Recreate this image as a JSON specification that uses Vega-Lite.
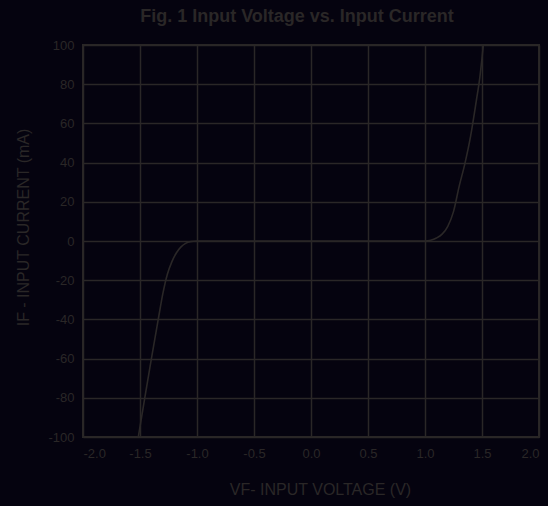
{
  "$schema": "https://vega.github.io/schema/vega-lite/v6.json",
  "autosize": "none",
  "width": 456,
  "height": 392,
  "padding": {"left": 83, "top": 45, "right": 9, "bottom": 69},
  "background": "#05030f",
  "title": {
    "text": "Fig. 1 Input Voltage vs. Input Current",
    "font": "Liberation Sans",
    "fontSize": 18,
    "fontWeight": "bold",
    "color": "#2a2727",
    "anchor": "middle",
    "dx": -14,
    "offset": 13
  },
  "config": {
    "view": {"stroke": "#2a2727", "strokeWidth": 2},
    "axis": {
      "labelFont": "Liberation Sans",
      "labelFontSize": 13,
      "labelColor": "#2a2727",
      "titleFont": "Liberation Sans",
      "titleFontSize": 16,
      "titleFontWeight": "normal",
      "titleColor": "#2a2727",
      "gridColor": "#2a2727",
      "gridWidth": 1.5,
      "gridOpacity": 1,
      "domain": false,
      "ticks": false,
      "labelExpr": "replace(datum.label, '\u2212', '-')"
    }
  },
  "data": {
    "values": [
      {"V": -1.515, "I": -100},
      {"V": -1.458, "I": -80},
      {"V": -1.40, "I": -60},
      {"V": -1.34, "I": -40},
      {"V": -1.30, "I": -27},
      {"V": -1.26, "I": -17},
      {"V": -1.22, "I": -10.5},
      {"V": -1.18, "I": -6},
      {"V": -1.14, "I": -3},
      {"V": -1.10, "I": -1.2},
      {"V": -1.06, "I": -0.3},
      {"V": -1.0, "I": 0},
      {"V": 0.0, "I": 0},
      {"V": 1.0, "I": 0},
      {"V": 1.05, "I": 0.4},
      {"V": 1.10, "I": 1.5},
      {"V": 1.15, "I": 3.5},
      {"V": 1.20, "I": 7.5},
      {"V": 1.25, "I": 15},
      {"V": 1.30, "I": 28},
      {"V": 1.35, "I": 39.5},
      {"V": 1.40, "I": 53.5},
      {"V": 1.45, "I": 71.5},
      {"V": 1.48, "I": 83},
      {"V": 1.512, "I": 100}
    ]
  },
  "mark": {"type": "line", "color": "#2a2727", "strokeWidth": 1.6, "interpolate": "monotone", "clip": true},
  "encoding": {
    "x": {
      "field": "V",
      "type": "quantitative",
      "scale": {"domain": [-2, 2], "nice": false},
      "axis": {"values": [-2, -1.5, -1, -0.5, 0, 0.5, 1, 1.5, 2], "format": ".1f", "labelPadding": 10, "title": "VF- INPUT VOLTAGE (V)", "titlePadding": 21, "titleX": 237}
    },
    "y": {
      "field": "I",
      "type": "quantitative",
      "scale": {"domain": [-100, 100], "nice": false},
      "axis": {"values": [-100, -80, -60, -40, -20, 0, 20, 40, 60, 80, 100], "labelPadding": 9, "title": "IF - INPUT CURRENT (mA)", "titlePadding": 16, "titleY": 182}
    }
  }
}
